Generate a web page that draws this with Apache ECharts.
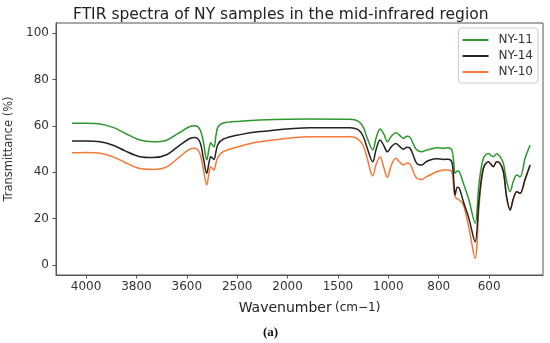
<!DOCTYPE html>
<html>
<head>
<meta charset="utf-8">
<script src="https://cdn.jsdelivr.net/npm/echarts@6/dist/echarts.min.js"></script>
<style>html,body{margin:0;padding:0;background:#fff}#c{width:550px;height:343px}</style>
</head>
<body>
<div id="c"></div>
<script>
// x positions are in tick-index units (0 = "4000" tick, 8 = "600" tick)
const tickLabels = ['4000','3800','3600','2500','2000','1500','1000','800','600'];
const tickPositions = [0,1,2,3,4,5,6,7,8];
const yTicks = [0,20,40,60,80,100];

const xPos = [-0.278,0.0,0.278,0.55,0.774,1.05,1.33,1.60,1.85,2.05,2.16,2.26,2.33,2.396,2.44,2.475,2.50,2.541,2.58,2.62,2.72,3.06,3.45,4.45,5.24,5.40,5.50,5.572,5.691,5.76,5.836,5.91,5.981,6.06,6.148,6.22,6.299,6.37,6.432,6.50,6.565,6.664,6.75,6.829,6.96,7.093,7.18,7.26,7.30,7.325,7.37,7.41,7.49,7.60,7.722,7.80,7.887,7.986,8.035,8.085,8.15,8.218,8.284,8.35,8.417,8.48,8.550,8.615,8.715,8.814];

const ny11 = [61.1,61.1,60.8,59.2,56.8,54.0,53.1,53.8,57.0,59.6,60.0,58.5,53,45.3,50,52.7,52,50.9,56,59.5,61.2,62.0,62.5,62.9,62.8,62.0,59.5,55.3,49.6,55,58.6,56.5,53.1,55.5,57,56,54.6,55.5,55,52,49.6,48.8,49.5,49.9,50.5,50.3,50.5,49.6,44,39.5,40.5,40.2,35.2,28,18,35,46,48.1,47.3,46.7,48,46.7,43.8,36,31.6,36,38.8,38,46,51.7];

const ny14 = [53.4,53.4,53.1,51.5,49.2,46.8,46.3,47.5,51.5,54.4,55.0,53,46,39.5,44,46.7,46.3,45.5,49,52,54.2,56.2,57.5,59.2,59.2,58.3,55.5,51,44.5,50,53.9,51.5,48.8,51,52.4,51.2,49.9,50.8,50.3,47,43.8,43.1,44.5,45.3,45.8,45.5,45.6,44.5,36,30.2,33.5,33,27.3,20,10,28,41.7,44.5,43.5,42.4,44.5,43.8,40.2,29,23.7,28.5,31.6,30.9,37,43.1];

const ny10 = [48.4,48.5,48.2,46.5,44.2,41.7,41.2,42.3,46.5,49.8,50.3,48,41,34.5,39.5,42.4,41.8,40.9,44,46.5,48.8,51.2,53.1,55.3,55.3,54.3,51.5,46.7,38.4,43.5,46.7,42,37.8,43,46,44.5,43.1,44,43.5,40,37.4,36.9,38,38.8,40.2,40.9,41,40.2,33,29.4,28.5,28,25.9,16,2.9,25,41.7,44.5,43.5,42.4,44.5,43.8,40.2,29,23.7,28.5,31.6,30.9,37,43.1];

function pairs(ys){ return xPos.map((x,i)=>[x,ys[i]]); }

const chart = echarts.init(document.getElementById('c'), null, {renderer:'canvas'});
const font = 'DejaVu Sans';
chart.setOption({
  animation:false,
  backgroundColor:'#fff',
  title:{text:'FTIR spectra of NY samples in the mid-infrared region', left:68, top:2,
    textStyle:{fontFamily:font, fontSize:15.5, fontWeight:'normal', color:'#222'}},
  grid:{left:56, right:7, top:23, bottom:68, containLabel:false, outerBoundsMode:'none', show:true, borderColor:'#555', borderWidth:1},
  legend:{data:['NY-11','NY-14','NY-10'], orient:'vertical', right:12, top:28, icon:'rect',
    itemWidth:26, itemHeight:2, itemGap:4, padding:[6,5,5,4], borderColor:'#ccc', borderWidth:1, borderRadius:3,
    textStyle:{fontFamily:font, fontSize:12, color:'#333', padding:[0,0,0,5]}},
  xAxis:{type:'value', min:-0.596, max:9.07,
    name:'{a|Wavenumber} {b|(cm\u22121)}', nameLocation:'middle', nameGap:26,
    nameTextStyle:{padding:[0,0,0,20], rich:{a:{fontFamily:font, fontSize:14, color:'#222'}, b:{fontFamily:font, fontSize:12, color:'#222'}}},
    axisLine:{onZero:false, lineStyle:{color:'#555'}},
    axisTick:{show:true, length:3.5, customValues:tickPositions, lineStyle:{color:'#555'}},
    axisLabel:{customValues:tickPositions, margin:6, fontFamily:font, fontSize:12, color:'#333',
      formatter:v=>tickLabels[Math.round(v)]},
    splitLine:{show:false}},
  yAxis:{type:'value', min:-4.3, max:104.3,
    name:'Transmittance (%)', nameLocation:'middle', nameGap:35,
    nameTextStyle:{fontFamily:font, fontSize:11.5, color:'#333'},
    axisLine:{show:true, onZero:false, lineStyle:{color:'#555'}},
    axisTick:{show:true, length:3.5, customValues:yTicks, lineStyle:{color:'#555'}},
    axisLabel:{customValues:yTicks, margin:7, fontFamily:font, fontSize:12, color:'#333'},
    splitLine:{show:false}},
  series:[
    {name:'NY-11', type:'line', data:pairs(ny11), symbol:'none', smooth:0.35, z:3, lineStyle:{color:'#2e962e', width:1.5}, itemStyle:{color:'#2e962e'}},
    {name:'NY-14', type:'line', data:pairs(ny14), symbol:'none', smooth:0.35, z:3, lineStyle:{color:'#222222', width:1.5}, itemStyle:{color:'#222222'}},
    {name:'NY-10', type:'line', data:pairs(ny10), symbol:'none', smooth:0.35, z:2, lineStyle:{color:'#f5793a', width:1.5}, itemStyle:{color:'#f5793a'}}
  ],
  graphic:[{type:'text', left:263, top:326, style:{text:'(a)', font:'bold 13px "Liberation Serif"', fill:'#111'}}]
});
</script>
</body>
</html>
